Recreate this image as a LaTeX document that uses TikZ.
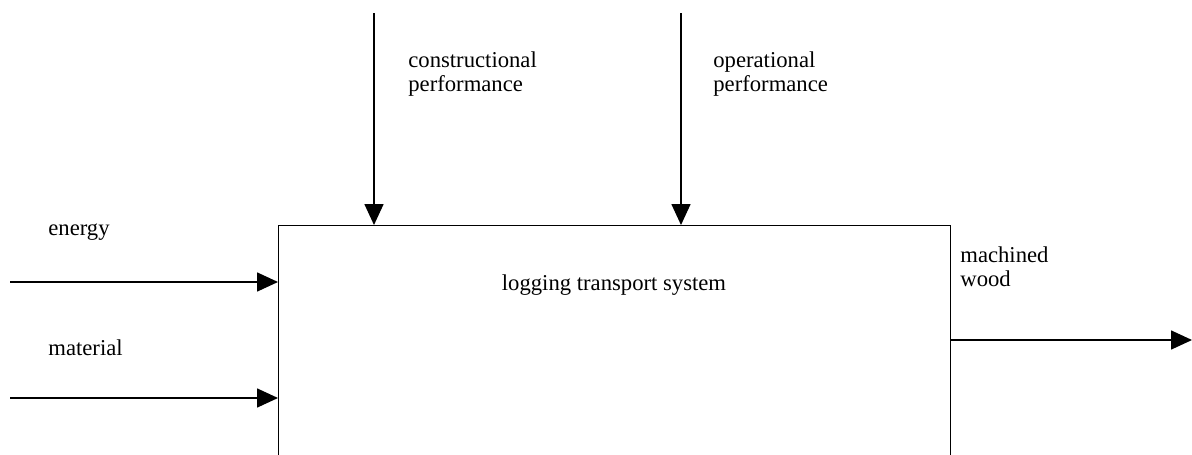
\documentclass[tikz,border=0pt]{standalone}
\usepackage{fontspec}
\setmainfont{Liberation Serif}
\usetikzlibrary{arrows.meta, positioning}

\tikzset{
  flow/.style={line width=0.7pt, -{Triangle[length=11pt, width=10pt]}},
  lbl/.style={anchor=west, inner sep=0pt, align=left,
    font=\fontsize{12pt}{12.6pt}\selectfont},
}

\begin{document}
\begin{tikzpicture}[x=0.5292pt, y=-0.5292pt]
\useasboundingbox (0,0) rectangle (1192,455);
\clip (0,0) rectangle (1192,455);

% the system block, its lower edge lies below the page
\node[draw, line width=0.7pt, anchor=north west, inner sep=0pt,
  minimum width=355.6pt, minimum height=140pt] (sys) at (278,225) {};
\node[lbl, anchor=center] (name) at (614,285) {logging transport system};

% free ends
\coordinate (enIn) at (10,282);
\coordinate (maIn) at (10,398);
\coordinate (coIn) at (374,13);
\coordinate (opIn) at (681,13);
\coordinate (woOut) at (1192,340);

% inputs and output
\draw[flow] (enIn) -- (enIn -| sys.west);
\draw[flow] (maIn) -- (maIn -| sys.west);
\draw[flow] (coIn) -- (coIn |- sys.north);
\draw[flow] (opIn) -- (opIn |- sys.north);
\draw[flow] (woOut -| sys.east) -- (woOut);

% labels
\node[lbl] (energy) at (48,232) {energy};
\node[lbl] (material) at (48,348) {material};
\node[lbl] (constr) at (408,74) {constructional\\performance};
\node[lbl] (oper) at (713,74) {operational\\performance};
\node[lbl] (wood) at (960,267) {machined\\wood};
\end{tikzpicture}
\end{document}
